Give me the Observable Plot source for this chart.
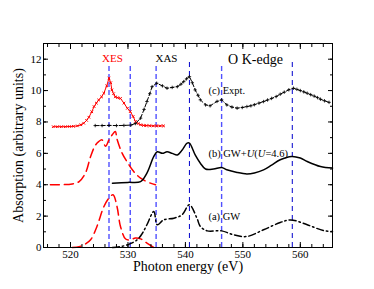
<!DOCTYPE html>
<html><head><meta charset="utf-8">
<script src="https://cdn.jsdelivr.net/npm/d3@7"></script>
<script src="https://cdn.jsdelivr.net/npm/@observablehq/plot@0.6"></script>
<style>body{margin:0;background:#fff} svg, svg text{font-family:'Liberation Serif','Times New Roman',serif !important}</style>
</head><body><div id="chart"></div>
<script>
// Expt (c)
const exptXesE = [517,517.7,518.4,519.1,519.8,520.5,521.2,521.8,522.3,522.8,523.2,523.7,524.1,524.5,524.9,525.4,525.8,526.3,526.7,527.0,527.2,527.5,527.8,528.2,528.7,529.3,529.9,530.4,530.9,531.3,531.8,532.2,532.7,533.2,533.8,534.4,535,535.6,536.2];
const exptXesA = [7.7,7.7,7.7,7.7,7.71,7.72,7.75,7.82,7.92,8.1,8.3,8.65,8.98,9.2,9.4,9.6,9.83,10.3,10.79,10.5,10.04,9.8,9.6,9.55,9.5,9.2,8.87,8.66,8.35,8.03,7.9,7.82,7.78,7.77,7.76,7.75,7.75,7.75,7.75];
const exptXasE = [524.3,525.5,526.7,528,529.3,530.5,531.3,532.2,532.8,533.3,533.8,534.2,535,536,536.8,537.7,538.6,539.2,539.7,540.2,540.7,541.2,541.7,542.2,542.6,543.5,544.3,545.5,546.3,547.2,548.1,549,549.9,550.7,551.4,552,552.8,553.6,554.3,555,555.8,556.5,557.2,558,558.8,559.4,560,560.6,561.2,561.8,562.4,563,563.5,564.2,565];
const exptXasA = [7.77,7.77,7.78,7.77,7.78,7.8,7.9,8.24,8.8,9.3,9.8,10.25,10.47,10.3,10.15,10.2,10.25,10.4,10.57,10.75,10.89,10.5,10.04,9.7,9.41,9.09,9.03,9.31,9.41,9.09,8.95,8.88,8.92,8.98,9.03,9.1,9.2,9.3,9.4,9.5,9.62,9.77,9.9,10.05,10.15,10.08,10.0,9.92,9.83,9.74,9.65,9.55,9.45,9.35,9.25];
// GW+U (b)
const guXesE = [516.5,518,520.3,521.5,522.6,523.5,524.3,524.9,525.5,526.1,526.7,527.3,527.8,528.1,529,530,531,532.2,533.9,534.8];
const guXesA = [4.0,4.0,4.05,4.2,4.74,5.8,6.5,6.75,6.86,6.45,6.86,7.2,7.39,6.9,6.0,5.37,4.84,4.42,4.1,4.0];
const guXasE = [527.3,530,532.2,533.3,534.5,535.1,536,536.8,537.7,538.6,539.4,540.3,540.7,541.7,542.6,543.5,544.9,546.3,547.2,549,550.7,552,553.6,555,556.5,558.5,560,561.2,563.5,565.6];
const guXasA = [4.1,4.15,4.2,4.74,5.8,6.1,6.0,6.1,6.0,5.9,6.2,6.65,6.65,5.9,5.37,5.0,5.0,5.1,4.95,4.78,4.69,4.75,4.95,5.25,5.59,5.8,5.7,5.48,5.16,5.06];
// GW (a)
const gwXesE = [520.3,521.5,522.5,523.5,524.6,525.8,526.7,527.4,528.1,528.7,529.6,530.4,531.3,532.2,533.3,534.5];
const gwXesA = [0.0,0.05,0.2,0.49,1.34,2.6,3.15,3.36,2.6,1.34,0.54,0.49,0.6,0.55,0.28,0.0];
const gwXasE = [527.3,528.5,529.9,531.6,532.5,533.3,534.5,535.1,536.2,538,539.4,540.7,542,542.6,543.8,546.3,548.4,550.7,553.6,556.5,558.3,561.2,564,565.6];
const gwXasA = [0.0,0.05,0.17,0.49,0.9,1.45,2.29,1.45,1.76,1.87,2.08,2.72,1.87,1.34,1.06,1.06,0.81,0.7,1.13,1.59,1.76,1.45,1.08,1.02];
// reference lines
const lightLines = [526.7,530.4,534.9,546.3];
const darkLines = [540.7,558.6];
const xTicks = [520,530,540,550,560];
const yTicks = [0,2,4,6,8,10,12];
const xTitle = "Photon energy (eV)";
const yTitle = "Absorption (arbitrary units)";
const topLabels = [
  {x:527.3,y:12.05,t:"XES",c:"#ff0000",s:11},
  {x:536.7,y:12.05,t:"XAS",c:"#000",s:11},
  {x:552.2,y:12.0,t:"O K-edge",c:"#000",s:14}
];
const curveLabels = [
  {x:544.0,y:10.0,t:"(c) Expt."},
  {x:544.0,y:6.0,t:"(b) GW+U(U=4.6)"},
  {x:544.0,y:1.95,t:"(a) GW"}
];

const zip = (E,A) => E.map((e,i)=>({e, a:A[i]}));
const font = "'Liberation Serif', 'Times New Roman', serif";

const plot = Plot.plot({
  width: 374, height: 289,
  marginLeft: 43, marginRight: 42, marginTop: 43, marginBottom: 42,
  style: {fontFamily: font, fontSize: "11px", color: "#000", background: "#fff"},
  x: {domain: [515.3, 565.6]},
  y: {domain: [0, 13]},
  marks: [
    Plot.ruleX(lightLines, {y1: 0, y2: 11.6, stroke: "#5050ff", strokeWidth: 1.4, strokeDasharray: "5,3"}),
    Plot.ruleX(darkLines, {y1: 0, y2: 11.8, stroke: "#0000cc", strokeWidth: 1, strokeDasharray: "5,4"}),
    // (c)
    Plot.line(zip(exptXesE, exptXesA), {x:"e", y:"a", stroke:"#ff0000", strokeWidth:1}),
    Plot.dot(zip(exptXesE, exptXesA), {x:"e", y:"a", symbol:"times", r:1.3, stroke:"#ff0000", strokeWidth:1}),
    Plot.line(zip(exptXasE, exptXasA), {x:"e", y:"a", stroke:"#000", strokeWidth:1, strokeDasharray:"4,2"}),
    Plot.dot(zip(exptXasE, exptXasA), {x:"e", y:"a", symbol:"plus", r:1.2, stroke:"#000", strokeWidth:0.8}),
    // (b)
    Plot.line(zip(guXesE, guXesA), {x:"e", y:"a", curve:"catmull-rom", stroke:"#ff0000", strokeWidth:1.5, strokeDasharray:"9,5"}),
    Plot.line(zip(guXasE, guXasA), {x:"e", y:"a", curve:"catmull-rom", stroke:"#000", strokeWidth:1.5}),
    // (a)
    Plot.line(zip(gwXesE, gwXesA), {x:"e", y:"a", curve:"catmull-rom", stroke:"#ff0000", strokeWidth:1.5, strokeDasharray:"9,5"}),
    Plot.line(zip(gwXasE, gwXasA), {x:"e", y:"a", curve:"catmull-rom", stroke:"#000", strokeWidth:1.5, strokeDasharray:"7,3,1.5,3"}),
    Plot.text(topLabels, {x:"x", y:"y", text:"t", fill:"c", fontSize:"s", textAnchor:"middle", fontFamily: font}),
    Plot.text(curveLabels, {x:"x", y:"y", text:"t", fill:"#000", fontSize:10.5, textAnchor:"start", fontFamily: font}),
    Plot.frame({stroke:"#000", strokeWidth:1}),
    Plot.axisX(xTicks, {tickSize:-5, tickPadding: 8, fontSize: 11, fontFamily: font, label: null}),
    Plot.axisX(d3.range(516, 566, 2), {tickSize:-3, tickFormat: () => "", label: null}),
    Plot.axisX(xTicks, {anchor:"top", tickSize:-5, tickFormat: () => "", label: null}),
    Plot.axisX(d3.range(516, 566, 2), {anchor:"top", tickSize:-3, tickFormat: () => "", label: null}),
    Plot.axisY(yTicks, {tickSize:-5, tickPadding: 7, fontSize: 11, fontFamily: font, label: null}),
    Plot.axisY(d3.range(0, 14, 1), {tickSize:-3, tickFormat: () => "", label: null}),
    Plot.axisY(yTicks, {anchor:"right", tickSize:-5, tickFormat: () => "", label: null}),
    Plot.axisY(d3.range(0, 14, 1), {anchor:"right", tickSize:-3, tickFormat: () => "", label: null}),
    Plot.text([xTitle], {frameAnchor: "bottom", dy: 19, textAnchor: "middle", lineAnchor: "middle", fontSize: 14, fontFamily: font, fill: "#000"}),
    Plot.text([yTitle], {frameAnchor: "left", dx: -25, rotate: -90, textAnchor: "middle", lineAnchor: "middle", fontSize: 14, fontFamily: font, fill: "#000"})
  ]
});
document.getElementById("chart").appendChild(plot);
plot.querySelectorAll("text").forEach(t => t.setAttribute("font-family", font));
// italic U in GW+U label
plot.querySelectorAll("text").forEach(t => {
  if (t.textContent === "(b) GW+U(U=4.6)") {
    t.innerHTML = "(b) GW+<tspan font-style='italic'>U</tspan>(<tspan font-style='italic'>U</tspan>=4.6)";
  }
});
</script>
</body></html>
